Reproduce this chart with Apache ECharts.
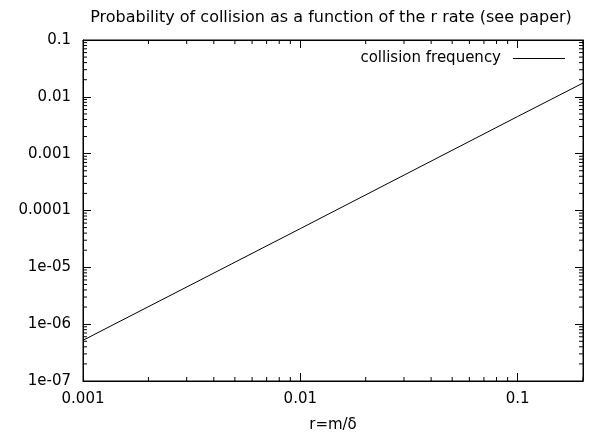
<!DOCTYPE html>
<html>
<head>
<meta charset="utf-8">
<script src="https://cdn.jsdelivr.net/npm/echarts@6/dist/echarts.min.js"></script>
<style>
  html, body { margin: 0; padding: 0; background: #fff; }
  #chart { width: 595px; height: 438px; }
</style>
</head>
<body>
<div id="chart"></div>
<script>
// collision frequency (straight line on log-log)
const rValues = [0.001, 0.01, 0.1, 0.2];
const collisionFreq = [5.2e-7, 4.8e-5, 4.5e-3, 0.0175];

const xTickLabels = { "-3": "0.001", "-2": "0.01", "-1": "0.1" };
const yTickLabels = {
  "-7": "1e-07", "-6": "1e-06", "-5": "1e-05", "-4": "0.0001",
  "-3": "0.001", "-2": "0.01", "-1": "0.1"
};

// gnuplot style minor ticks at 2..9 of every decade
const minorSteps = [2, 3, 4, 5, 6, 7, 8, 9];
const xDecades = [0.001, 0.01, 0.1];
const yDecades = [1e-7, 1e-6, 1e-5, 1e-4, 1e-3, 1e-2];

const X_MIN = 0.001, X_MAX = 0.2, Y_MIN = 1e-7, Y_MAX = 0.1;

const minorData = [];
xDecades.forEach((d) => minorSteps.forEach((m) => {
  if (d * m <= X_MAX) minorData.push([d * m, Y_MIN, 0]);
}));
yDecades.forEach((d) => minorSteps.forEach((m) => {
  minorData.push([X_MIN, d * m, 1]);
}));

const FONT = "DejaVu Sans";

function labelFor(table) {
  return (v) => {
    const e = Math.log10(v);
    const r = Math.round(e);
    if (Math.abs(e - r) > 1e-6) return "";
    return table[String(r)] || "";
  };
}

const chart = echarts.init(document.getElementById("chart"));

const option = {
  animation: false,
  backgroundColor: "#fff",
  title: {
    text: "Probability of collision as a function of the r rate (see paper)",
    left: 326,
    textAlign: "center",
    top: 5,
    textStyle: { fontFamily: FONT, fontSize: 16, fontWeight: "normal", color: "#000" },
  },
  legend: {
    data: ["collision frequency"],
    right: 25,
    top: 46,
    align: "right",
    itemWidth: 52,
    itemHeight: 1,
    icon: "rect",
    textStyle: { fontFamily: FONT, fontSize: 15, color: "#000", padding: [0, 7, 0, 0] },
  },
  grid: {
    left: 83,
    right: 12,
    top: 40,
    bottom: 57,
    show: true,
    borderColor: "#000",
    borderWidth: 1,
  },
  xAxis: [
    {
      type: "log",
      logBase: 10,
      min: X_MIN,
      max: X_MAX,
      name: "r=m/δ",
      nameLocation: "middle",
      nameGap: 37,
      nameTextStyle: { fontFamily: FONT, fontSize: 15, color: "#000" },
      axisLine: { lineStyle: { color: "#000" } },
      axisTick: { inside: true, length: 8, lineStyle: { color: "#000" } },
      axisLabel: {
        formatter: labelFor(xTickLabels),
        fontFamily: FONT, fontSize: 15, color: "#000", margin: 11,
        showMaxLabel: false,
      },
      splitLine: { show: false },
    },
    {
      type: "log",
      logBase: 10,
      min: X_MIN,
      max: X_MAX,
      position: "top",
      axisLine: { lineStyle: { color: "#000" } },
      axisTick: { inside: true, length: 8, lineStyle: { color: "#000" } },
      axisLabel: { show: false },
      splitLine: { show: false },
    },
  ],
  yAxis: [
    {
      type: "log",
      logBase: 10,
      min: Y_MIN,
      max: Y_MAX,
      axisLine: { lineStyle: { color: "#000" } },
      axisTick: { inside: true, length: 8, lineStyle: { color: "#000" } },
      axisLabel: {
        formatter: labelFor(yTickLabels),
        fontFamily: FONT, fontSize: 15, color: "#000", margin: 12,
      },
      splitLine: { show: false },
    },
    {
      type: "log",
      logBase: 10,
      min: Y_MIN,
      max: Y_MAX,
      position: "right",
      axisLine: { lineStyle: { color: "#000" } },
      axisTick: { inside: true, length: 8, lineStyle: { color: "#000" } },
      axisLabel: { show: false },
      splitLine: { show: false },
    },
  ],
  series: [
    {
      name: "collision frequency",
      type: "line",
      data: rValues.map((r, i) => [r, collisionFreq[i]]),
      showSymbol: false,
      symbol: "none",
      lineStyle: { color: "#000", width: 1 },
      itemStyle: { color: "#000" },
    },
    {
      type: "custom",
      silent: true,
      data: minorData,
      renderItem: (params, api) => {
        const vx = api.value(0), vy = api.value(1), axis = api.value(2);
        const len = 4;
        if (axis === 0) {
          const b = api.coord([vx, Y_MIN]);
          const t = api.coord([vx, Y_MAX]);
          return {
            type: "group",
            children: [
              { type: "line", shape: { x1: b[0], y1: b[1], x2: b[0], y2: b[1] - len }, style: { stroke: "#000", lineWidth: 1 } },
              { type: "line", shape: { x1: t[0], y1: t[1], x2: t[0], y2: t[1] + len }, style: { stroke: "#000", lineWidth: 1 } },
            ],
          };
        }
        const l = api.coord([X_MIN, vy]);
        const r = api.coord([X_MAX, vy]);
        return {
          type: "group",
          children: [
            { type: "line", shape: { x1: l[0], y1: l[1], x2: l[0] + len, y2: l[1] }, style: { stroke: "#000", lineWidth: 1 } },
            { type: "line", shape: { x1: r[0], y1: r[1], x2: r[0] - len, y2: r[1] }, style: { stroke: "#000", lineWidth: 1 } },
          ],
        };
      },
    },
  ],
};

chart.setOption(option);
</script>
</body>
</html>
